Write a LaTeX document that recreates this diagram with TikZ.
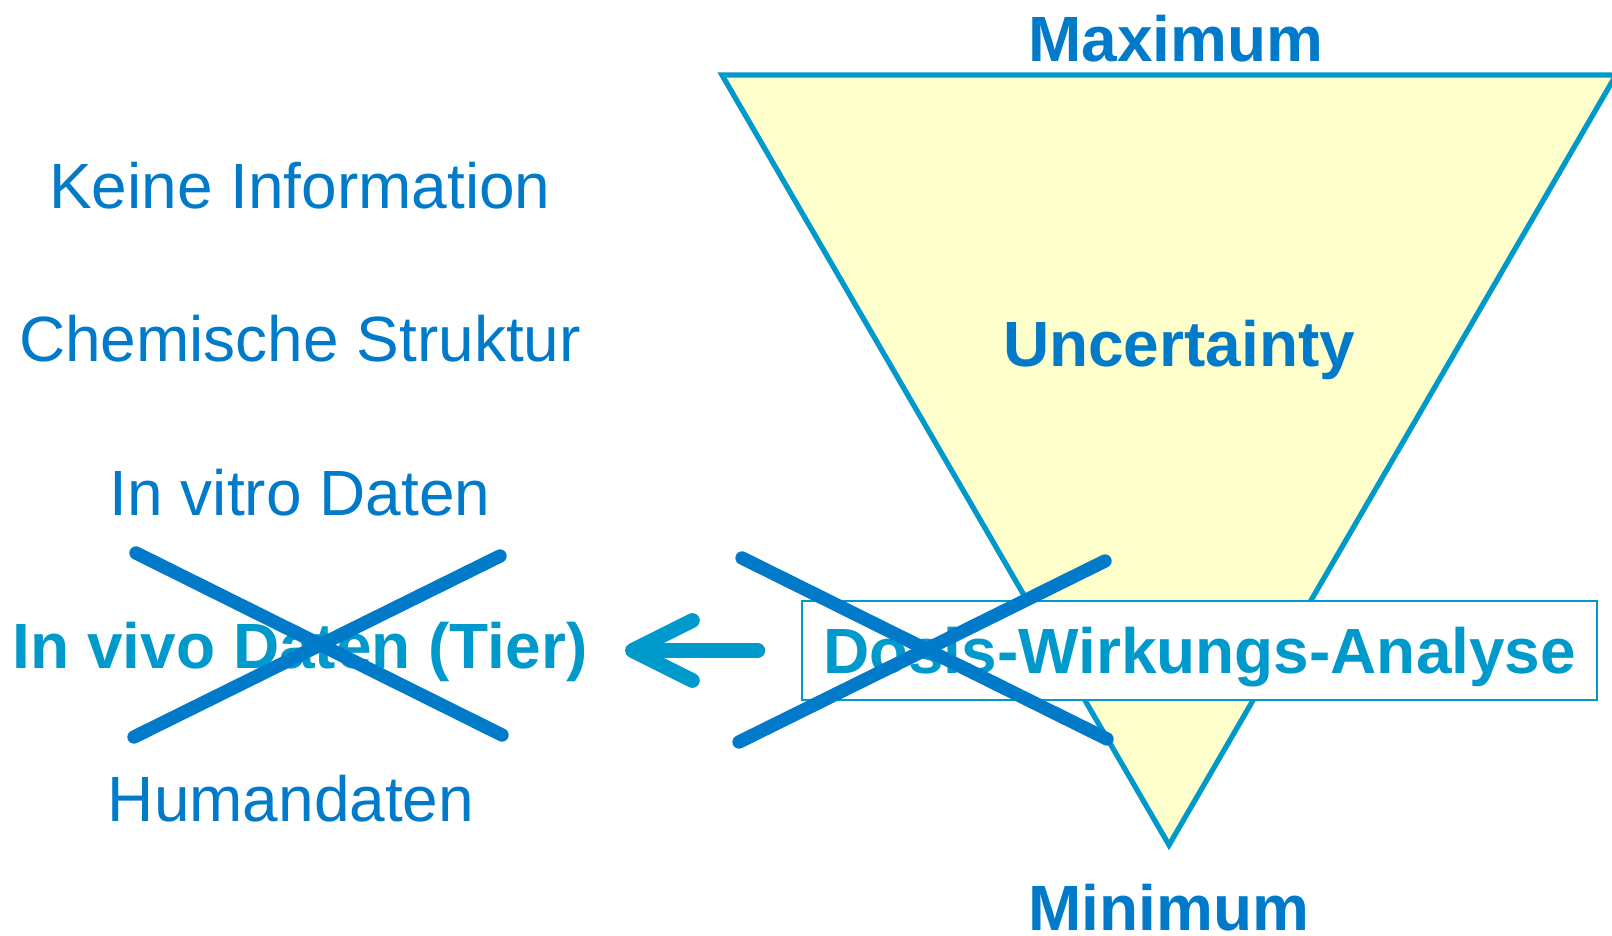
\documentclass[tikz,border=0pt]{standalone}
\usepackage{fontspec}
\setmainfont{Liberation Sans}
\usepackage{xcolor}
\usepackage{tikz}
\usetikzlibrary{positioning}
\usetikzlibrary{arrows.meta}
\definecolor{txtblue}{RGB}{0,122,201}
\definecolor{cyanblue}{RGB}{0,153,204}
\definecolor{paleyellow}{RGB}{255,255,204}
\tikzset{lbl/.style={text=txtblue, inner sep=0pt, text height=0.5cm, text depth=0.14cm, font=\fontsize{18.2}{22}\selectfont}}
\tikzset{heading/.style={lbl, font=\fontsize{18.2}{22}\selectfont\bfseries}}
\tikzset{cross/.style={draw=txtblue, line width=3.8pt, line cap=round}}
\tikzset{pointer/.style={draw=cyanblue, line width=4.2pt, line cap=round, -{Straight Barb[length=0.6cm, width=0.6cm, round]}}}

\begin{document}
\begin{tikzpicture}[node distance={15.3mm}]
		\useasboundingbox (0,0) rectangle (16.12,-9.36);
		% funnel
		\draw[cyanblue, fill=paleyellow, line width=1.5pt] (7.22,-0.75) -- (16.16,-0.75) -- (11.69,-8.45) -- cycle;
		\node[heading] (max) at (11.76,-0.44) {Maximum};
		\node[heading] (unc) at (11.79,-3.49) {Uncertainty};
		\node[heading, text depth=0cm] (min) at (11.69,-9.05) {Minimum};
		\node[draw=cyanblue, fill=white, line width=0.7pt, minimum width=7.95cm, minimum height=0.99cm, inner sep=0pt, text=cyanblue, text height=0.56cm, text depth=0.1cm, font=\fontsize{18.2}{22}\selectfont\bfseries] (dwa) at (11.995,-6.505) {Dosis-Wirkungs-Analyse};
		
		% left column
		\node[lbl] (keine) at (3.0,-1.91) {Keine Information};
		\node[lbl] (chem) [below of=keine] {Chemische Struktur};
		\node[lbl] (vitro) [below of=chem] {In vitro Daten};
		\node[heading, text=cyanblue] (vivo) [below of=vitro] {In vivo Daten (Tier)};
		\node[lbl] (human) [below of=vivo, xshift=-0.09cm] {Humandaten};
		
		\draw[pointer, shorten <=0.43cm, shorten >=0.37cm] (dwa.west) -- (vivo.east |- dwa.west);
		
		% crossed out
		\draw[cross] (1.36,-5.53) -- (5.02,-7.35);
		\draw[cross] (1.34,-7.37) -- (5.00,-5.56);
		\draw[cross] (7.42,-5.58) -- (11.07,-7.39);
		\draw[cross] (7.39,-7.42) -- (11.05,-5.61);
	\end{tikzpicture}
\end{document}
